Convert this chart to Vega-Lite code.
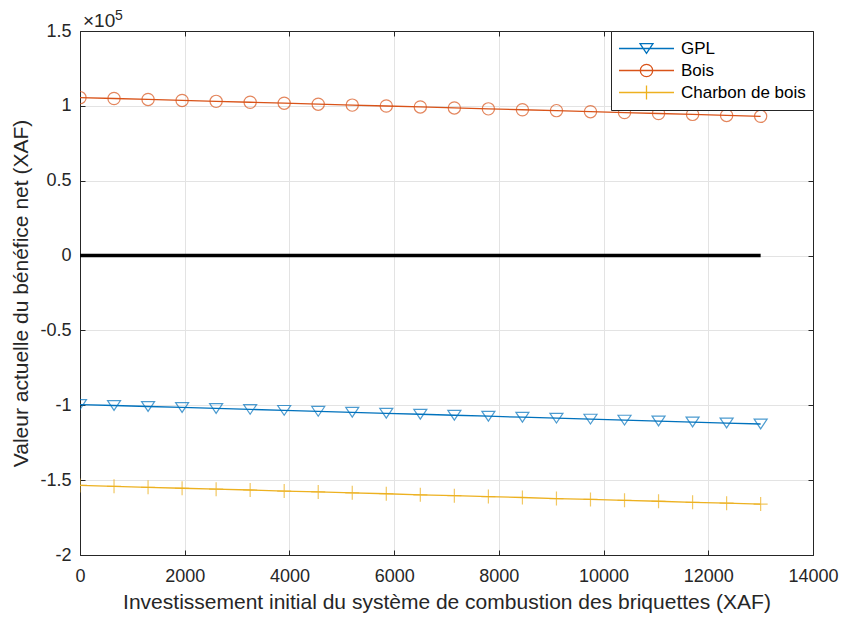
{
  "$schema": "https://vega.github.io/schema/vega-lite/v6.json",
  "width": 733,
  "height": 524,
  "autosize": {"type": "none"},
  "padding": {"left": 80, "top": 31, "right": 29, "bottom": 68},
  "background": "white",
  "config": {
    "font": "Liberation Sans",
    "view": {"stroke": "#262626", "strokeWidth": 1}
  },
  "datasets": {
    "series": [
      {"x": 0, "GPL": -99500, "Bois": 105500, "Charbon de bois": -153500},
      {"x": 650, "GPL": -100150, "Bois": 104900, "Charbon de bois": -154100},
      {"x": 1300, "GPL": -100800, "Bois": 104300, "Charbon de bois": -154800},
      {"x": 1950, "GPL": -101450, "Bois": 103600, "Charbon de bois": -155400},
      {"x": 2600, "GPL": -102100, "Bois": 103000, "Charbon de bois": -156000},
      {"x": 3250, "GPL": -102750, "Bois": 102400, "Charbon de bois": -156600},
      {"x": 3900, "GPL": -103400, "Bois": 101800, "Charbon de bois": -157300},
      {"x": 4550, "GPL": -104050, "Bois": 101100, "Charbon de bois": -157900},
      {"x": 5200, "GPL": -104700, "Bois": 100500, "Charbon de bois": -158500},
      {"x": 5850, "GPL": -105350, "Bois": 99900, "Charbon de bois": -159100},
      {"x": 6500, "GPL": -106000, "Bois": 99300, "Charbon de bois": -159800},
      {"x": 7150, "GPL": -106650, "Bois": 98600, "Charbon de bois": -160400},
      {"x": 7800, "GPL": -107300, "Bois": 98000, "Charbon de bois": -161000},
      {"x": 8450, "GPL": -107950, "Bois": 97400, "Charbon de bois": -161600},
      {"x": 9100, "GPL": -108600, "Bois": 96800, "Charbon de bois": -162300},
      {"x": 9750, "GPL": -109250, "Bois": 96100, "Charbon de bois": -162900},
      {"x": 10400, "GPL": -109900, "Bois": 95500, "Charbon de bois": -163500},
      {"x": 11050, "GPL": -110550, "Bois": 94900, "Charbon de bois": -164100},
      {"x": 11700, "GPL": -111200, "Bois": 94300, "Charbon de bois": -164800},
      {"x": 12350, "GPL": -111850, "Bois": 93600, "Charbon de bois": -165400},
      {"x": 13000, "GPL": -112500, "Bois": 93000, "Charbon de bois": -166000}
    ],
    "zero": [{"x": 0, "x2": 13000, "y": 0}],
    "exponent": [{"x": 0, "y": 150000, "base": "×10", "power": "5"}]
  },
  "data": {"name": "series"},
  "transform": [
    {"fold": ["GPL", "Bois", "Charbon de bois"], "as": ["series", "value"]}
  ],
  "resolve": {"axis": {"x": "independent", "y": "independent"}},
  "layer": [
    {
      "mark": {"type": "line", "strokeWidth": 1.3, "clip": true},
      "encoding": {
        "x": {
          "field": "x", "type": "quantitative",
          "scale": {"domain": [0, 14000], "nice": false, "zero": false},
          "axis": {
            "orient": "bottom",
            "values": [0, 2000, 4000, 6000, 8000, 10000, 12000, 14000],
            "format": "d",
            "grid": true, "gridColor": "#e3e3e3", "gridWidth": 1,
            "domain": true, "domainColor": "#262626",
            "ticks": true, "tickSize": -5, "tickColor": "#262626",
            "labelColor": "#262626", "labelFontSize": 18, "labelPadding": 17,
            "labelFlush": false, "labelOverlap": false,
            "title": "Investissement initial du système de combustion des briquettes (XAF)",
            "titleColor": "#262626", "titleFontSize": 21, "titleFontWeight": "normal", "titlePadding": 6
          }
        },
        "y": {
          "field": "value", "type": "quantitative",
          "scale": {"domain": [-200000, 150000], "nice": false, "zero": false},
          "axis": {
            "orient": "left",
            "values": [-200000, -150000, -100000, -50000, 0, 50000, 100000, 150000],
            "labelExpr": "'' + datum.value / 100000",
            "grid": true, "gridColor": "#e3e3e3", "gridWidth": 1,
            "domain": true, "domainColor": "#262626",
            "ticks": true, "tickSize": -5, "tickColor": "#262626",
            "labelColor": "#262626", "labelFontSize": 18, "labelPadding": 14,
            "labelFlush": false, "labelOverlap": false,
            "title": "Valeur actuelle du bénéfice net (XAF)",
            "titleColor": "#262626", "titleFontSize": 21, "titleFontWeight": "normal", "titlePadding": 8
          }
        },
        "color": {
          "field": "series", "type": "nominal",
          "scale": {"domain": ["GPL", "Bois", "Charbon de bois"], "range": ["#0072BD", "#D95319", "#EDB120"]},
          "legend": {
            "orient": "top-right", "offset": 0, "title": null,
            "symbolSize": 3025, "clipHeight": 21, "rowPadding": 1, "padding": 7,
            "strokeColor": "#262626", "fillColor": "white", "cornerRadius": 0,
            "labelFontSize": 17, "labelColor": "#000000", "labelOffset": 6,
            "symbolStrokeWidth": 1.3,
            "encode": {
              "symbols": {
                "update": {
                  "shape": {"signal": "datum.value === 'GPL' ? 'M-1,0L1,0M-0.236,-0.178L0.236,-0.178L0,0.178Z' : datum.value === 'Bois' ? 'M-1,0L1,0M0.225,0A0.225,0.225,0,1,1,-0.225,0A0.225,0.225,0,1,1,0.225,0Z' : 'M-1,0L1,0M0,-0.255L0,0.255'"},
                  "fill": {"value": "transparent"}
                }
              }
            }
          }
        }
      }
    },
    {
      "transform": [{"filter": "datum.series === 'GPL'"}],
      "mark": {"type": "point", "filled": false, "strokeWidth": 1.2, "clip": true, "shape": "M-1,-0.75L1,-0.75L0,0.75Z", "size": 169},
      "encoding": {
        "x": {"field": "x", "type": "quantitative", "axis": null},
        "y": {"field": "value", "type": "quantitative", "axis": null},
        "color": {"field": "series", "type": "nominal", "legend": null}
      }
    },
    {
      "transform": [{"filter": "datum.series === 'Bois'"}],
      "mark": {"type": "point", "filled": false, "strokeWidth": 1.2, "clip": true, "shape": "circle", "size": 150},
      "encoding": {
        "x": {"field": "x", "type": "quantitative", "axis": null},
        "y": {"field": "value", "type": "quantitative", "axis": null},
        "color": {"field": "series", "type": "nominal", "legend": null}
      }
    },
    {
      "transform": [{"filter": "datum.series === 'Charbon de bois'"}],
      "mark": {"type": "point", "filled": false, "strokeWidth": 1.2, "clip": true, "shape": "M-1,0L1,0M0,-1L0,1", "size": 196},
      "encoding": {
        "x": {"field": "x", "type": "quantitative", "axis": null},
        "y": {"field": "value", "type": "quantitative", "axis": null},
        "color": {"field": "series", "type": "nominal", "legend": null}
      }
    },
    {
      "data": {"name": "zero"},
      "mark": {"type": "rule", "color": "#000000", "strokeWidth": 3.5},
      "encoding": {
        "x": {
          "field": "x", "type": "quantitative",
          "axis": {"orient": "top", "labels": false, "grid": false, "title": null,
                   "values": [0, 2000, 4000, 6000, 8000, 10000, 12000, 14000],
                   "domain": true, "domainColor": "#262626", "ticks": true, "tickSize": -5, "tickColor": "#262626"}
        },
        "x2": {"field": "x2"},
        "y": {
          "field": "y", "type": "quantitative",
          "axis": {"orient": "right", "labels": false, "grid": false, "title": null,
                   "values": [-200000, -150000, -100000, -50000, 0, 50000, 100000, 150000],
                   "domain": true, "domainColor": "#262626", "ticks": true, "tickSize": -5, "tickColor": "#262626"}
        }
      }
    },
    {
      "data": {"name": "exponent"},
      "mark": {"type": "text", "align": "left", "baseline": "alphabetic", "dx": 3, "dy": -4, "fontSize": 19, "color": "#262626"},
      "encoding": {
        "x": {"field": "x", "type": "quantitative", "axis": null},
        "y": {"field": "y", "type": "quantitative", "axis": null},
        "text": {"field": "base"}
      }
    },
    {
      "data": {"name": "exponent"},
      "mark": {"type": "text", "align": "left", "baseline": "alphabetic", "dx": 35, "dy": -11, "fontSize": 14, "color": "#262626"},
      "encoding": {
        "x": {"field": "x", "type": "quantitative", "axis": null},
        "y": {"field": "y", "type": "quantitative", "axis": null},
        "text": {"field": "power"}
      }
    }
  ]
}
